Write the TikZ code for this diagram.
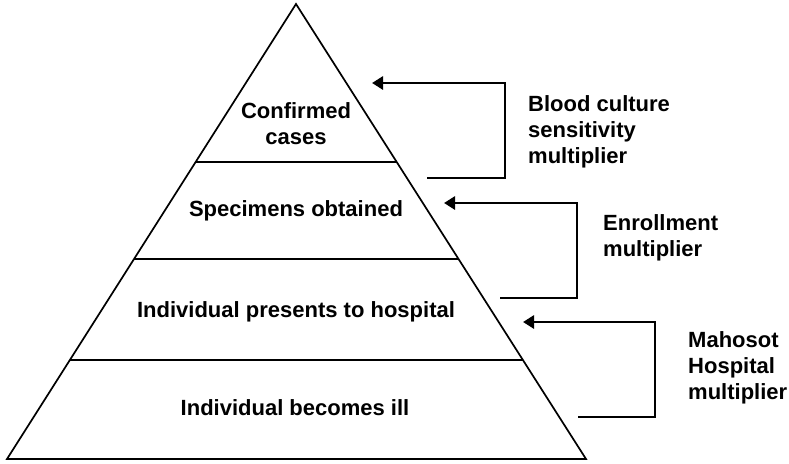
\documentclass[tikz,border=0pt]{standalone}
\usepackage{fontspec}
\setmainfont{Liberation Sans}
\usetikzlibrary{arrows.meta,calc}
\begin{document}
\begin{tikzpicture}[x=1pt,y=-1pt,
  tri/.style={line width=1.7pt, line join=miter},
  level/.style={line width=1.9pt},
  bracket/.style={line width=2.8pt, line join=miter, -{Triangle[length=11pt,width=13pt]}},
  lbl/.style={font=\fontsize{22}{26}\selectfont\bfseries, align=center, inner sep=0pt},
  side/.style={font=\fontsize{22}{26}\selectfont\bfseries, align=left, inner sep=0pt, anchor=west}]
\useasboundingbox (0,0) rectangle (789,463);
% triangle
\coordinate (apex) at (296,4);
\coordinate (bl) at (7,459);
\coordinate (br) at (586,459);
\draw[tri] (apex) -- (br) -- (bl) -- cycle;
% level lines
\draw[level] ($(apex)!0.3473!(bl)$) coordinate (l1a) -- ($(apex)!0.3473!(br)$) coordinate (l1b);
\draw[level] ($(apex)!0.5604!(bl)$) coordinate (l2a) -- ($(apex)!0.5604!(br)$) coordinate (l2b);
\draw[level] ($(apex)!0.7824!(bl)$) coordinate (l3a) -- ($(apex)!0.7824!(br)$) coordinate (l3b);
% level labels
\node[lbl] (confirmed) at (296,124) {Confirmed\\cases};
\node[lbl] (specimens) at (296,211) {Specimens obtained};
\node[lbl] (presents) at (296,312) {Individual presents to hospital};
\node[lbl] (ill) at (295,408) {Individual becomes ill};
% brackets
\coordinate (b1s) at (427,178);
\coordinate (b1c1) at (505,178);
\coordinate (b1c2) at (505,83);
\coordinate (b1e) at (372,83);
\draw[bracket] (b1s) -- (b1c1) -- (b1c2) -- (b1e);
\coordinate (b2s) at (500,298);
\coordinate (b2c1) at (577,298);
\coordinate (b2c2) at (577,203);
\coordinate (b2e) at (444,203);
\draw[bracket] (b2s) -- (b2c1) -- (b2c2) -- (b2e);
\coordinate (b3s) at (578,417);
\coordinate (b3c1) at (655,417);
\coordinate (b3c2) at (655,322);
\coordinate (b3e) at (523,322);
\draw[bracket] (b3s) -- (b3c1) -- (b3c2) -- (b3e);
% side labels
\node[side] (blood) at (528,132) {Blood culture\\sensitivity\\multiplier};
\node[side] (enroll) at (603,238) {Enrollment\\multiplier};
\node[side] (mahosot) at (688,368) {Mahosot\\Hospital\\multiplier};
\end{tikzpicture}
\end{document}
